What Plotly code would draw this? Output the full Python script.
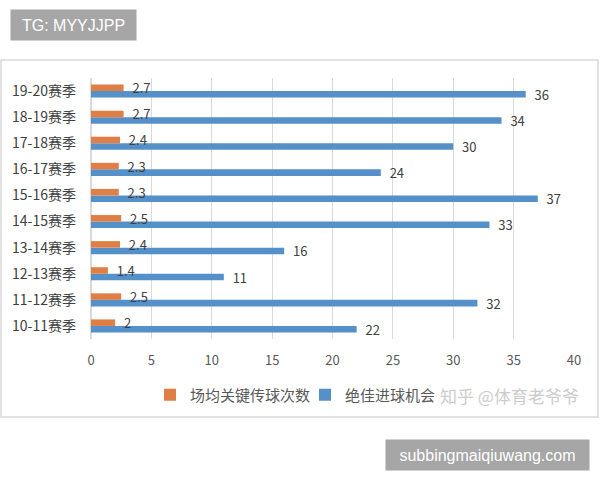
import plotly.graph_objects as go

seasons = ["10-11赛季", "11-12赛季", "12-13赛季", "13-14赛季", "14-15赛季",
           "15-16赛季", "16-17赛季", "17-18赛季", "18-19赛季", "19-20赛季"]
key_passes = [2, 2.5, 1.4, 2.4, 2.5, 2.3, 2.3, 2.4, 2.7, 2.7]
big_chances = [22, 32, 11, 16, 33, 37, 24, 30, 34, 36]
x_ticks = [0, 5, 10, 15, 20, 25, 30, 35, 40]

FONT = "Noto Sans CJK SC"
ORANGE = "#e07f45"
BLUE = "#5590c8"

fig = go.Figure()
fig.add_trace(go.Bar(
    y=seasons, x=big_chances, orientation="h", name="绝佳进球机会",
    marker=dict(color=BLUE, line=dict(width=0)),
    texttemplate="  %{x}", textposition="outside", constraintext="none",
    textfont=dict(color="#404040", size=13, family=FONT), cliponaxis=False,
))
fig.add_trace(go.Bar(
    y=seasons, x=key_passes, orientation="h", name="场均关键传球次数",
    marker=dict(color=ORANGE, line=dict(width=0)),
    texttemplate="  %{x}", textposition="outside", constraintext="none",
    textfont=dict(color="#404040", size=13, family=FONT), cliponaxis=False,
))

L, R, T, B = 91, 26, 78, 141
pw = 600 - L - R
ph = 480 - T - B

def px(x):
    return (x - L) / pw

def py(y):
    return (480 - B - y) / ph

fig.update_layout(
    width=600, height=480,
    margin=dict(l=L, r=R, t=T, b=B),
    paper_bgcolor="white", plot_bgcolor="white",
    barmode="group", bargap=0.5, bargroupgap=0,
    font=dict(family=FONT, color="#595959", size=12),
    showlegend=True,
    legend=dict(orientation="h", traceorder="reversed",
                x=px(150), y=py(395), xanchor="left", yanchor="middle",
                font=dict(size=15, color="#595959", family=FONT),
                entrywidth=110, entrywidthmode="pixels",
                itemwidth=30, bgcolor="rgba(0,0,0,0)"),
    xaxis=dict(range=[0, 40], tickvals=x_ticks, showgrid=True,
               gridcolor="#d9d9d9", gridwidth=1, zeroline=True,
               zerolinecolor="#d9d9d9", showline=False, ticks="",
               ticklabelstandoff=12,
               tickfont=dict(size=13, color="#595959"), fixedrange=True),
    yaxis=dict(type="category", categoryorder="array", categoryarray=seasons,
               showgrid=False, showline=False, ticks="", ticklen=0,
               ticklabelstandoff=14,
               tickfont=dict(size=14, color="#404040"), fixedrange=True),
    shapes=[dict(type="rect", xref="paper", yref="paper",
                 x0=px(1), x1=px(598), y0=py(417), y1=py(60),
                 line=dict(color="#d9d9d9", width=1.5), layer="below")],
    annotations=[
        dict(text="知乎 @体育老爷爷", xref="paper", yref="paper",
             x=px(438), y=py(395), xanchor="left", yanchor="middle",
             showarrow=False, font=dict(size=17, color="#cccccc", family=FONT)),
        dict(text="TG: MYYJJPP", xref="paper", yref="paper",
             x=px(10), y=py(25), xanchor="left", yanchor="middle",
             width=113, height=18, align="center",
             showarrow=False, bgcolor="#a6a6a6", borderpad=6,
             font=dict(size=16, color="white", family="Liberation Sans")),
        dict(text="subbingmaiqiuwang.com", xref="paper", yref="paper",
             x=px(590), y=py(455), xanchor="right", yanchor="middle",
             width=191, height=18, align="center",
             showarrow=False, bgcolor="#a6a6a6", borderpad=6,
             font=dict(size=16, color="white", family="Liberation Sans")),
    ],
)

fig.write_html("out.html")
